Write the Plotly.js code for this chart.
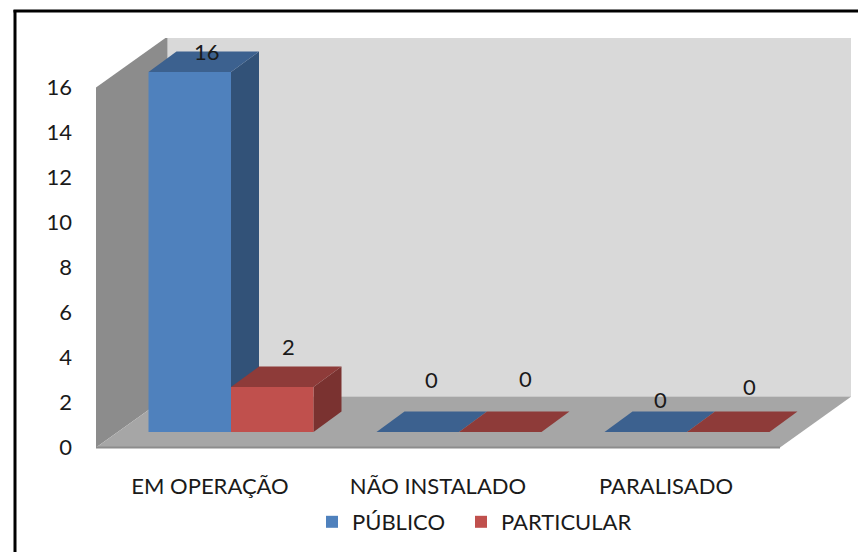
<!DOCTYPE html>
<html>
<head>
<meta charset="utf-8">
<script src="https://cdn.plot.ly/plotly-3.0.1.min.js"></script>
<style>html,body{margin:0;padding:0;background:#fff;overflow:hidden}#c{width:858px;height:552px}</style>
</head>
<body>
<div id="c"></div>
<script>
// ---- data ----
const categories = ['EM OPERAÇÃO', 'NÃO INSTALADO', 'PARALISADO'];
const publico = [16, 0, 0];
const particular = [2, 0, 0];
const yTicks = [0, 2, 4, 6, 8, 10, 12, 14, 16];

// ---- styling / projection ----
const W = 858, H = 552;
const M = {l: 96, r: 7, t: 38, b: 103, autoexpand: false};
const plotW = W - M.l - M.r, plotH = H - M.t - M.b;
const pxPerCat = 228, pxPerUnit = 22.5;
const xRange = [-0.5, -0.5 + plotW / pxPerCat];
const yBottom = -1.5 / pxPerUnit;
const yRange = [yBottom, yBottom + plotH / pxPerUnit];
const X = px => px / pxPerCat, Y = px => px / pxPerUnit;
const wallDx = X(71.5), wallDy = Y(51);
const barShiftX = X(21), barShiftY = Y(15.5);
const barDx = X(28), barDy = Y(20.5);
const barW = X(82.5);
const nCat = categories.length;
const wallTop = yTicks[yTicks.length - 1];
const font = 'Lato, Carlito, Calibri, sans-serif';
const textColor = '#1a1a1a';
const fontSize = 22;

const colors = {
  pub: {front: '#4F81BD', top: '#3C618F', side: '#325278'},
  par: {front: '#C0504D', top: '#8E3B39', side: '#7A3230'}
};

function poly(pts, fill) {
  return {
    type: 'scatter', mode: 'lines', fill: 'toself', fillcolor: fill,
    x: pts.map(p => p[0]).concat(pts[0][0]),
    y: pts.map(p => p[1]).concat(pts[0][1]),
    line: {width: 0, color: fill}, hoverinfo: 'skip', showlegend: false,
    xaxis: 'x', yaxis: 'y'
  };
}
function faces(values, startOffset, c) {
  const out = [];
  values.forEach((v, i) => {
    const x0 = i + barShiftX + startOffset, x1 = x0 + barW;
    const b = barShiftY, t = barShiftY + v;
    if (v > 0) out.push(poly([[x1, b], [x1, t], [x1 + barDx, t + barDy], [x1 + barDx, b + barDy]], c.side));
    out.push(poly([[x0, t], [x1, t], [x1 + barDx, t + barDy], [x0 + barDx, t + barDy]], c.top));
  });
  return out;
}
function barTrace(name, values, startOffset, color, legendId) {
  return {
    type: 'bar', name: name, legend: legendId,
    x: categories.map((_, i) => i + barShiftX),
    y: values,
    base: values.map(() => barShiftY),
    width: barW, offset: startOffset,
    marker: {color: color, line: {width: 0}},
    xaxis: 'x2', yaxis: 'y2', hoverinfo: 'skip'
  };
}

const traces = [
  ...faces(publico, -barW, colors.pub),
  ...faces(particular, 0, colors.par),
  barTrace('PÚBLICO', publico, -barW, colors.pub.front, 'legend'),
  barTrace('PARTICULAR', particular, 0, colors.par.front, 'legend2')
];

function path(pts) {
  return 'M' + pts.map(p => p[0] + ',' + p[1]).join('L') + 'Z';
}
const xl = -0.5, xr = nCat - 0.5;
const wallShape = (pts, fill) => ({type: 'path', xref: 'x', yref: 'y', layer: 'below', path: path(pts), fillcolor: fill, line: {width: 0}});
const px2x = px => (px - M.l) / plotW;
const px2y = py => (H - M.b - py) / plotH;
const shapes = [
  wallShape([[xl + wallDx, wallDy], [xr + wallDx, wallDy], [xr + wallDx, wallTop + wallDy], [xl + wallDx, wallTop + wallDy]], '#D9D9D9'),
  wallShape([[xl, 0], [xl + wallDx, wallDy], [xl + wallDx, wallTop + wallDy], [xl, wallTop]], '#8C8C8C'),
  wallShape([[xl, 0], [xl + wallDx, wallDy], [xr + wallDx, wallDy], [xr, 0]], '#A6A6A6'),
  {type: 'line', xref: 'x', yref: 'y', layer: 'below', x0: xl, x1: xr, y0: 0, y1: 0, line: {color: '#8C8C8C', width: 2}},
  // chart frame (left and top edges)
  {type: 'line', xref: 'paper', yref: 'paper', x0: px2x(15), x1: px2x(15), y0: px2y(10), y1: px2y(H + 5), line: {color: '#000', width: 3}},
  {type: 'line', xref: 'paper', yref: 'paper', x0: px2x(13.5), x1: px2x(858), y0: px2y(11), y1: px2y(11), line: {color: '#000', width: 3}}
];

// data labels, anchored at the bar they describe, nudged in pixels as in the reference
const labelNudges = {
  pub: [[3, -0.5], [0, -32], [1, -12]],
  par: [[2, -20.5], [11, -33.5], [7, -25.5]]
};
function labels(values, startOffset, nudges) {
  return values.map((v, i) => ({
    x: i + barShiftX + startOffset + barW / 2 + barDx / 2,
    y: barShiftY + v + barDy,
    xref: 'x', yref: 'y', text: String(v), showarrow: false,
    xshift: nudges[i][0], yshift: -nudges[i][1],
    font: {family: font, size: fontSize, color: textColor}
  }));
}

const legendBase = {orientation: 'h', xanchor: 'left', yanchor: 'top', y: px2y(501), font: {family: font, size: fontSize, color: textColor}, bgcolor: 'rgba(0,0,0,0)'};

const layout = {
  width: W, height: H, margin: M, paper_bgcolor: '#fff', plot_bgcolor: 'rgba(0,0,0,0)',
  showlegend: true, barmode: 'overlay',
  legend: {...legendBase, x: px2x(312)},
  legend2: {...legendBase, x: px2x(461)},
  xaxis: {range: xRange, tickmode: 'array', tickvals: categories.map((_, i) => i), ticktext: categories, showgrid: false, zeroline: false, showline: false, ticks: '', ticklabelstandoff: 22, tickfont: {family: font, size: fontSize, color: textColor}},
  yaxis: {range: yRange, tickmode: 'array', tickvals: yTicks, showgrid: false, zeroline: false, showline: false, ticks: '', ticklabelstandoff: 23, tickfont: {family: font, size: fontSize, color: textColor}},
  xaxis2: {range: xRange, overlaying: 'x', visible: false},
  yaxis2: {range: yRange, overlaying: 'y', visible: false},
  shapes: shapes,
  annotations: [...labels(publico, -barW, labelNudges.pub), ...labels(particular, 0, labelNudges.par)]
};

Plotly.newPlot('c', traces, layout, {displayModeBar: false, staticPlot: true});
</script>
</body>
</html>
